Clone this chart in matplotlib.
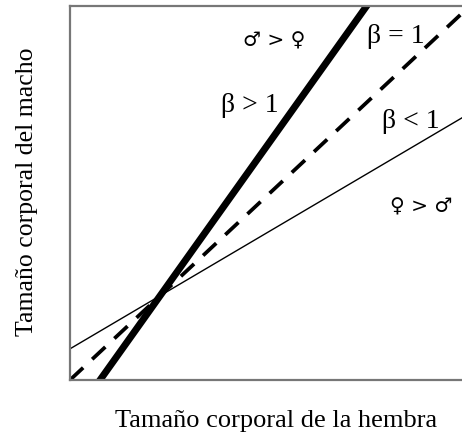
import matplotlib
matplotlib.use("Agg")
import matplotlib.pyplot as plt

plt.rcParams['font.family'] = ['Liberation Serif', 'DejaVu Sans']

# female body size (x) and male body size (y) for the three allometric lines
hembra = [0.0, 10.0]
macho_beta_mayor = [-1.15, 13.85]   # beta > 1
macho_beta_igual = [0.0, 10.0]      # beta = 1
macho_beta_menor = [0.85, 7.15]     # beta < 1

etiquetas_beta = ["β = 1", "β > 1", "β < 1"]
beta_x = [8.32, 4.59, 8.70]
beta_y = [9.19, 7.31, 6.87]

etiquetas_sexo = ["♂ > ♀", "♀ > ♂"]
sexo_x = [5.20, 8.95]
sexo_y = [9.10, 4.57]

fig = plt.figure(figsize=(4.62, 4.32), dpi=100)
ax = fig.add_axes([70 / 462, 52 / 432, 392 / 462, 374 / 432])

ax.plot(hembra, macho_beta_mayor, color='black', lw=5.0, solid_capstyle='butt')
ax.plot(hembra, macho_beta_igual, color='black', lw=2.7, linestyle=(0, (4.8, 3.3)))
ax.plot(hembra, macho_beta_menor, color='black', lw=1.0)

ax.set_xlim(0, 10)
ax.set_ylim(0, 10.2)
ax.set_xticks([])
ax.set_yticks([])
for lado in ['left', 'top', 'bottom']:
    ax.spines[lado].set_color('#777777')
    ax.spines[lado].set_linewidth(1.6)
ax.spines['right'].set_visible(False)

for texto, x, y in zip(etiquetas_beta, beta_x, beta_y):
    ax.text(x, y, texto, fontsize=20, ha='center', va='baseline')

for texto, x, y in zip(etiquetas_sexo, sexo_x, sexo_y):
    ax.text(x, y, texto, fontsize=14.5, ha='center', va='baseline',
            family=['DejaVu Sans'])

fig.text(276 / 462, 5 / 432, "Tamaño corporal de la hembra",
         fontsize=19, ha='center', va='baseline')
fig.text(27 / 462, 1 - 192 / 432, "Tamaño corporal del macho",
         fontsize=18.5, ha='center', va='center', rotation=90)

fig.savefig("out.png", dpi=100)
